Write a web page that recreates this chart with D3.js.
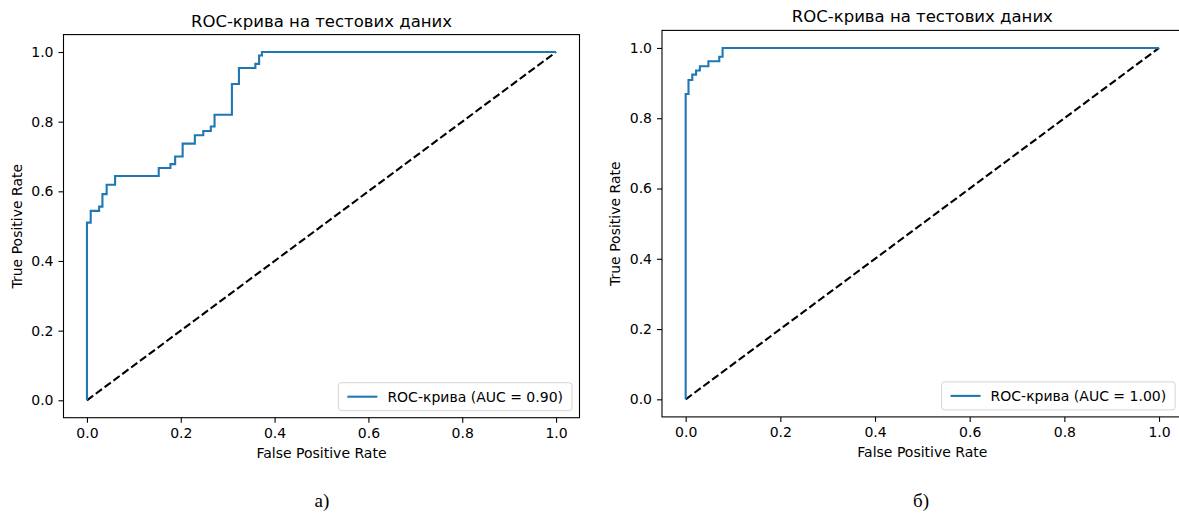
<!DOCTYPE html>
<html>
<head>
<meta charset="utf-8">
<script src="https://cdn.jsdelivr.net/npm/d3@7"></script>
<style>
  body { margin: 0; background: #fff; }
  text { font-family: "DejaVu Sans", sans-serif; fill: #000; }
</style>
</head>
<body>
<div class="chart"></div>
<script>
// ROC curves (corner points, step after)
let fprA = [0, 0, 0.008, 0.026, 0.033, 0.042, 0.060, 0.153, 0.178, 0.188, 0.204,
  0.230, 0.248, 0.264, 0.272, 0.309, 0.324, 0.359, 0.367, 0.373, 1.0];
let tprA = [0, 0.510, 0.544, 0.556, 0.592, 0.619, 0.644, 0.667, 0.678, 0.700, 0.737,
  0.761, 0.773, 0.786, 0.820, 0.908, 0.954, 0.966, 0.990, 1.0, 1.0];

let fprB = [0, 0, 0.006, 0.014, 0.022, 0.030, 0.048, 0.071, 0.078, 1.0];
let tprB = [0, 0.869, 0.909, 0.924, 0.936, 0.948, 0.962, 0.975, 1.0, 1.0];

let diagonal = [0, 1];
let ticks = [0, 0.2, 0.4, 0.6, 0.8, 1.0];
let titleText = "ROC-крива на тестових даних";
let legendA = "ROC-крива (AUC = 0.90)";
let legendB = "ROC-крива (AUC = 1.00)";
let captions = ["а)", "б)"];

let W = 1179, H = 528;
let svg = d3.select(".chart").append("svg")
  .attr("width", W).attr("height", H);

let panels = [
  { box: { left: 63.5, right: 579.5, top: 34.6, bottom: 417.7 }, fpr: fprA, tpr: tprA, legend: legendA, caption: captions[0] },
  { box: { left: 662, right: 1182.7, top: 30.4, bottom: 416.9 }, fpr: fprB, tpr: tprB, legend: legendB, caption: captions[1] },
];

panels.forEach((p, idx) => {
  let b = p.box;
  let x = d3.scaleLinear().domain([-0.05, 1.05]).range([b.left, b.right]);
  let y = d3.scaleLinear().domain([-0.05, 1.05]).range([b.bottom, b.top]);
  let g = svg.append("g");

  // axes frame
  g.append("rect")
    .attr("x", b.left).attr("y", b.top)
    .attr("width", b.right - b.left).attr("height", b.bottom - b.top)
    .attr("fill", "none").attr("stroke", "#000").attr("stroke-width", 1.1);

  let xAxis = d3.axisBottom(x).tickValues(ticks).tickFormat(d3.format(".1f"))
    .tickSize(5).tickPadding(5);
  let yAxis = d3.axisLeft(y).tickValues(ticks).tickFormat(d3.format(".1f"))
    .tickSize(5).tickPadding(5);

  let gx = g.append("g").attr("transform", `translate(0, ${b.bottom})`).call(xAxis);
  let gy = g.append("g").attr("transform", `translate(${b.left}, 0)`).call(yAxis);
  [gx, gy].forEach((a) => {
    a.select(".domain").remove();
    a.selectAll("line").attr("stroke", "#000").attr("stroke-width", 1.1);
    a.selectAll("text").style("font-size", "14px").attr("fill", "#222");
  });

  // diagonal
  let line = d3.line().x((d) => x(d)).y((d) => y(d));
  g.append("path")
    .attr("d", line(diagonal))
    .attr("fill", "none").attr("stroke", "#000")
    .attr("stroke-width", 2.1).attr("stroke-dasharray", "7.7,3.3");

  // roc step curve
  let pts = p.fpr.map((f, i) => [f, p.tpr[i]]);
  let roc = d3.line().x((d) => x(d[0])).y((d) => y(d[1])).curve(d3.curveStepAfter);
  g.append("path")
    .attr("d", roc(pts))
    .attr("fill", "none").attr("stroke", "#1f77b4")
    .attr("stroke-width", 2.1).attr("stroke-linejoin", "miter");

  // title and labels
  g.append("text").attr("x", (b.left + b.right) / 2).attr("y", b.top - 8)
    .attr("text-anchor", "middle").style("font-size", "16.5px").text(titleText);
  g.append("text").attr("x", (b.left + b.right) / 2).attr("y", b.bottom + 40)
    .attr("text-anchor", "middle").style("font-size", "14px").attr("fill", "#222")
    .text("False Positive Rate");
  g.append("text")
    .attr("transform", `translate(${b.left - 42}, ${(b.top + b.bottom) / 2}) rotate(-90)`)
    .attr("text-anchor", "middle").style("font-size", "14px").attr("fill", "#222")
    .text("True Positive Rate");

  // legend, lower right
  let lg = g.append("g");
  let lt = lg.append("text").style("font-size", "14px").attr("fill", "#222").text(p.legend);
  let tw = lt.node().getComputedTextLength();
  let boxW = 10 + 30 + 10 + tw + 8;
  let boxH = 28;
  let bx = b.right - 7.5 - boxW, by = b.bottom - 7 - boxH;
  lg.insert("rect", "text")
    .attr("x", bx).attr("y", by).attr("width", boxW).attr("height", boxH)
    .attr("rx", 3).attr("fill", "#fff").attr("fill-opacity", 0.8)
    .attr("stroke", "#d5d5d5").attr("stroke-width", 1);
  lg.append("line")
    .attr("x1", bx + 9).attr("x2", bx + 39)
    .attr("y1", by + boxH / 2).attr("y2", by + boxH / 2)
    .attr("stroke", "#1f77b4").attr("stroke-width", 2.1);
  lt.attr("x", bx + 49).attr("y", by + boxH / 2 + 5);

  // sub caption
  svg.append("text").attr("x", idx == 0 ? 322 : 921).attr("y", 507)
    .attr("text-anchor", "middle")
    .style("font-family", "'Liberation Serif', serif").style("font-size", "19px")
    .text(p.caption);
});
</script>
</body>
</html>
